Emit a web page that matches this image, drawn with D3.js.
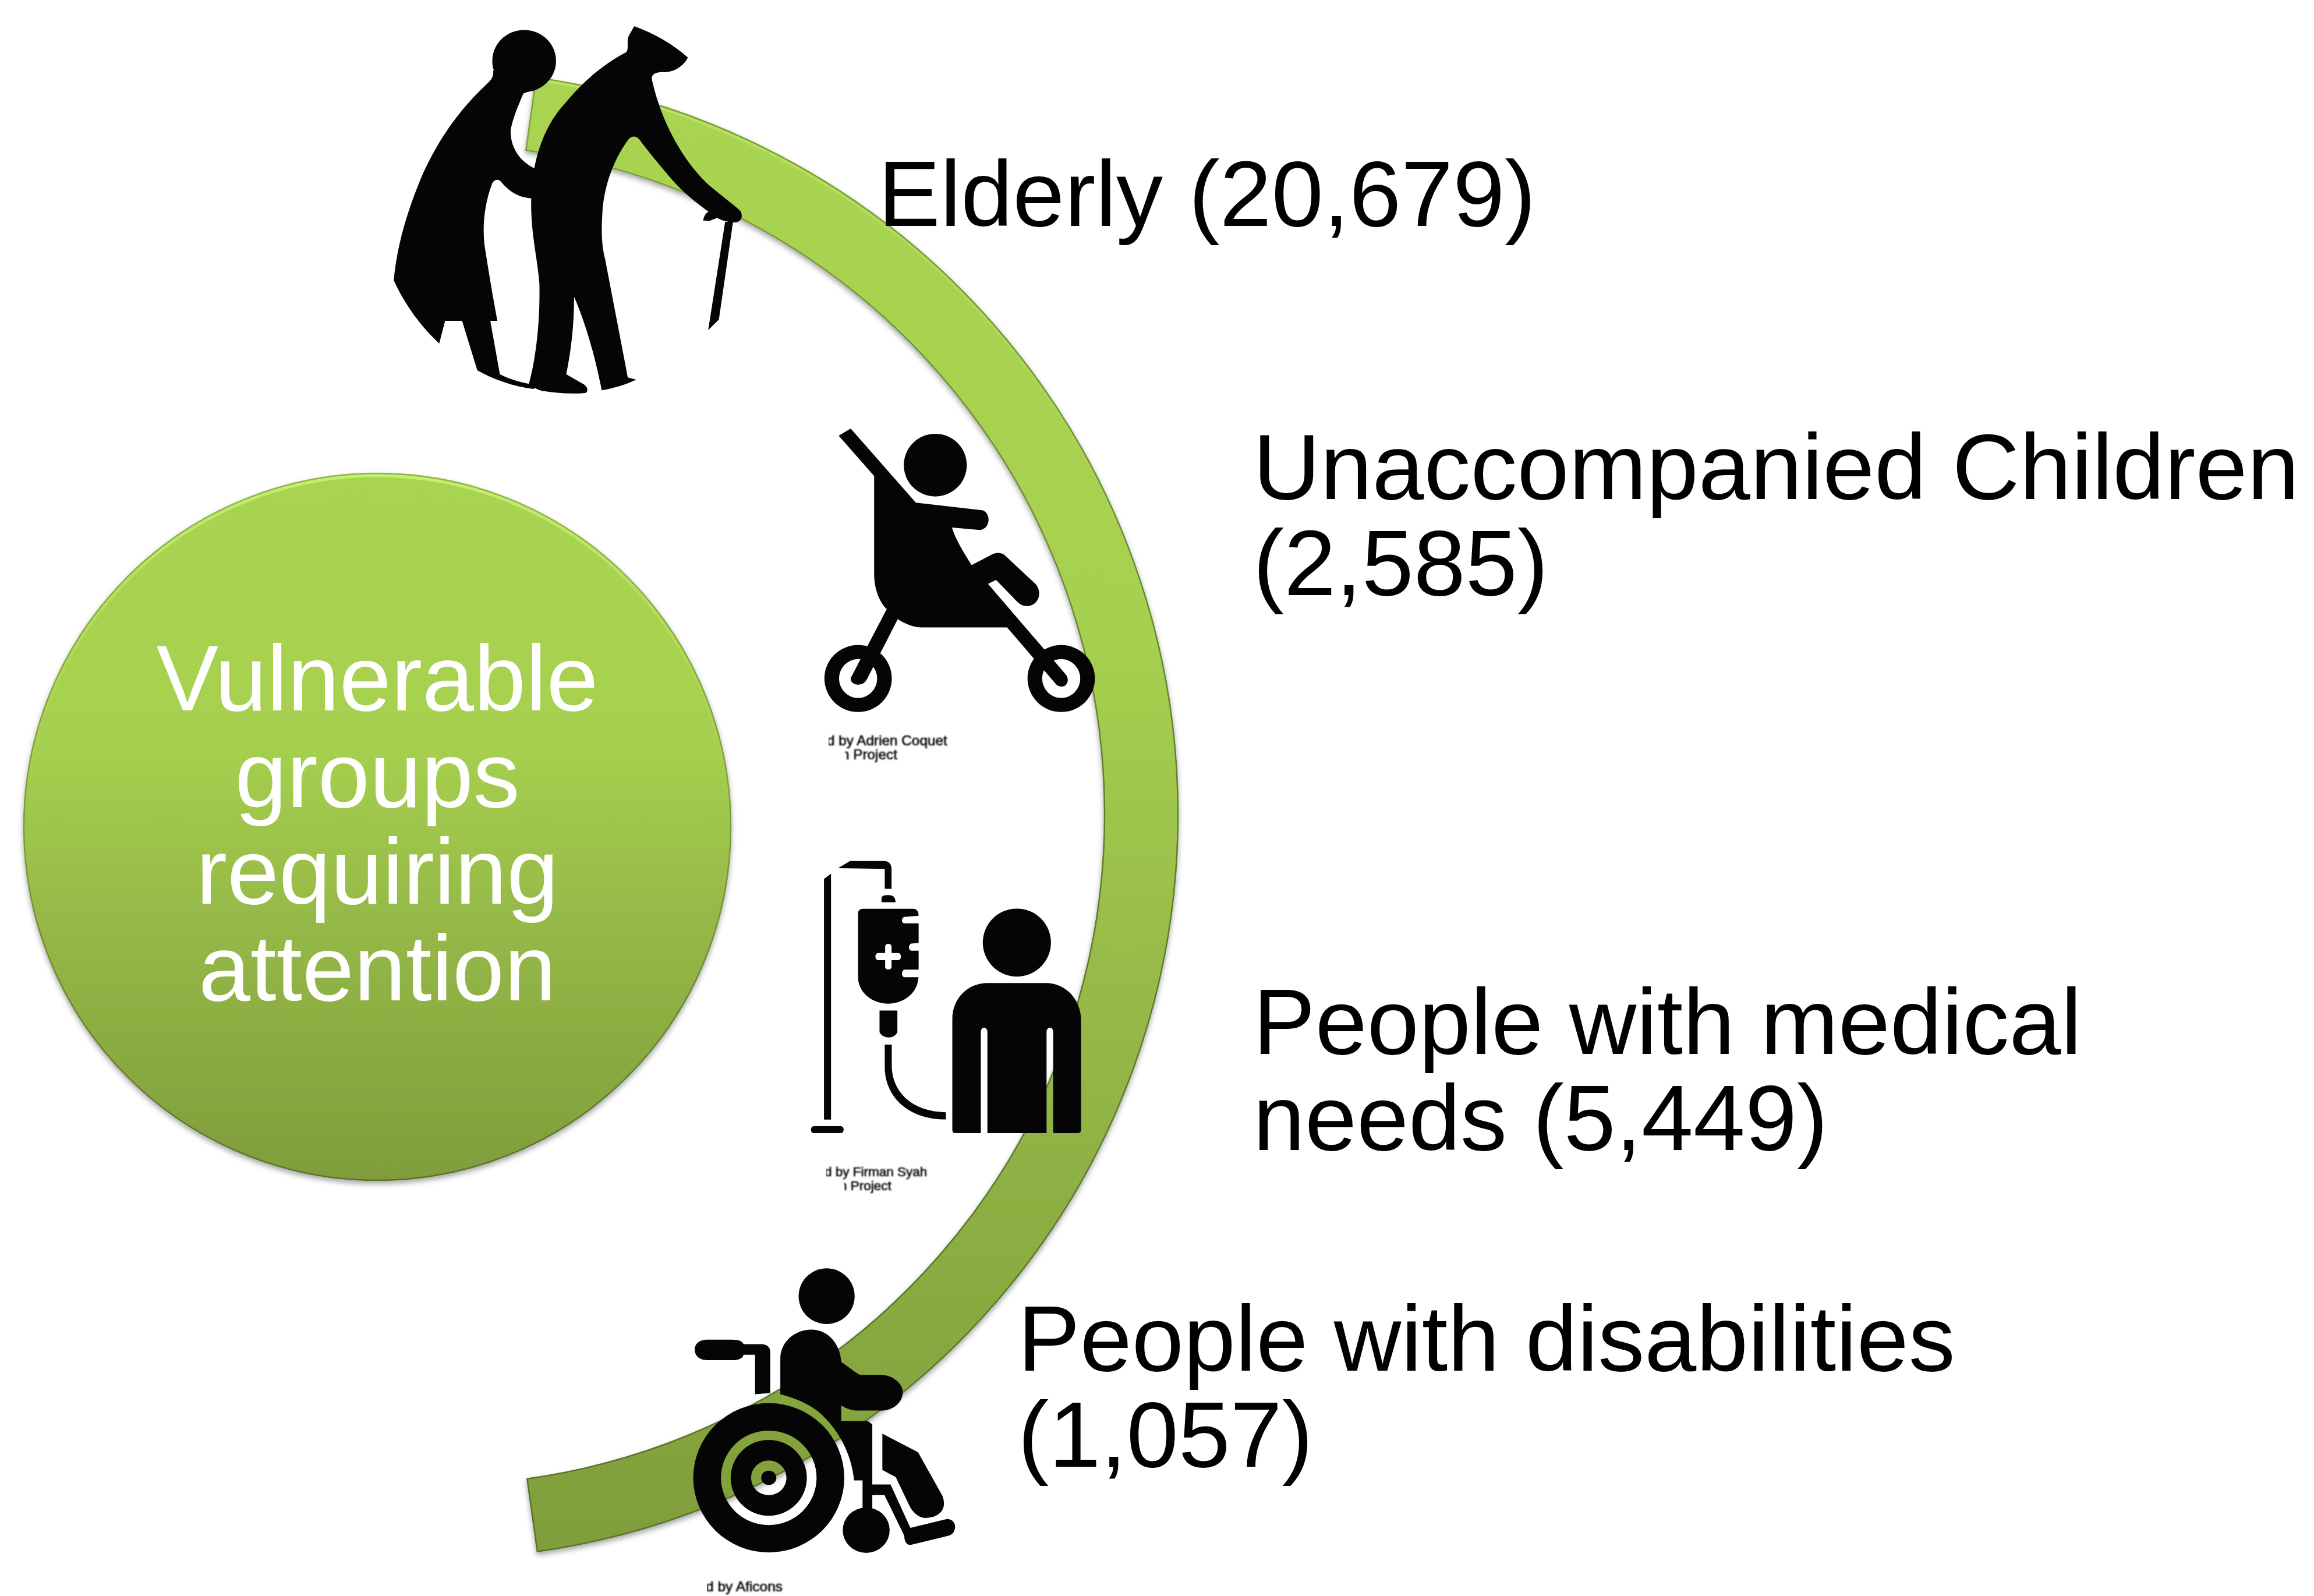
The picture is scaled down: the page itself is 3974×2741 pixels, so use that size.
<!DOCTYPE html>
<html>
<head>
<meta charset="utf-8">
<script src="https://cdn.jsdelivr.net/npm/d3@7/dist/d3.min.js"></script>
<style>
html,body{margin:0;padding:0;background:#fff}
svg{display:block}
text{font-family:"Liberation Sans",Arial,sans-serif}
</style>
</head>
<body>
<svg id="chart" width="3974" height="2741"></svg>
<script>
// Population groups and their head counts
const groupNames = ["Elderly", "Unaccompanied Children", "People with medical needs", "People with disabilities"];
const groupCounts = [20679, 2585, 5449, 1057];
const firstLines = [null, "Unaccompanied Children", "People with medical", "People with disabilities"];
const centreLines = ["Vulnerable", "groups", "requiring", "attention"];
const iconCredits = [
  {lines: ["d by Adrien Coquet", "n Project"], size: 24.3, x: [1420, 1445], y: [1280, 1304], clipX: [1423, 1451]},
  {lines: ["d by Firman Syah", "n Project"], size: 22.5, x: [1416, 1442], y: [2020, 2044], clipX: [1419, 1449]},
  {lines: ["d by Aficons"], size: 24.5, x: [1212], y: [2733], clipX: [1214]}
];

const labelX = [1508, 2152, 2152, 1748];
const labelY = [388, 857, 1810, 2354];
const labelLeading = 165;
const fontSize = 160;

const svg = d3.select("#chart");
const defs = svg.append("defs");
const fmt = d3.format(",");

function vGrad(id, y1, y2, stops) {
  const g = defs.append("linearGradient").attr("id", id)
    .attr("gradientUnits", "userSpaceOnUse")
    .attr("x1", 0).attr("x2", 0).attr("y1", y1).attr("y2", y2);
  stops.forEach(s => g.append("stop").attr("offset", s[0]).attr("stop-color", s[1]).attr("stop-opacity", s[2] === undefined ? 1 : s[2]));
}

const disc = {cx: 648, cy: 1420, r: 607};
const ribbon = {cx: 745, cy: 1399, inner: 1152, outer: 1278};
const ribbonTop = 130 - ribbon.cy, ribbonBottom = 2666 - ribbon.cy;

const fillStops = [[0, "#a9d451"], [0.38, "#a6d04f"], [0.62, "#96ba48"], [1, "#7f9d3b"]];
vGrad("discFill", 813, 2027, fillStops);
vGrad("discEdge", 813, 2027, [[0, "#8fb83e"], [0.5, "#7c9c38"], [1, "#56722a"]]);
vGrad("discGlow", 813, 2027, [[0, "#c8f276", 0.9], [0.25, "#b8e066", 0.55], [0.48, "#a8cc58", 0]]);
vGrad("ribbonFill", ribbonTop, ribbonBottom, fillStops);
vGrad("ribbonEdge", ribbonTop, ribbonBottom, [[0, "#7fa238"], [0.5, "#5f7e2c"], [1, "#56722a"]]);
vGrad("ribbonGlow", ribbonTop, ribbonBottom, [[0, "#c4ee72", 0.6], [0.3, "#b0d660", 0.25], [0.5, "#a0c050", 0]]);

const shadow = defs.append("filter").attr("id", "softShadow")
  .attr("x", "-5%").attr("y", "-5%").attr("width", "110%").attr("height", "112%");
shadow.append("feDropShadow").attr("dx", 0).attr("dy", 5).attr("stdDeviation", 5)
  .attr("flood-color", "#000").attr("flood-opacity", 0.35);
defs.append("filter").attr("id", "creditBlur").append("feGaussianBlur").attr("stdDeviation", 0.9);

// Central disc
svg.append("circle").attr("cx", disc.cx).attr("cy", disc.cy).attr("r", disc.r)
  .attr("fill", "url(#discFill)").attr("stroke", "url(#discEdge)").attr("stroke-width", 2.5)
  .attr("filter", "url(#softShadow)");
svg.append("circle").attr("cx", disc.cx).attr("cy", disc.cy).attr("r", disc.r - 4)
  .attr("fill", "none").attr("stroke", "url(#discGlow)").attr("stroke-width", 5);

// Curved ribbon round the disc
const deg = Math.PI / 180;
const ribbonAngles = {startAngle: 7.9 * deg, endAngle: 172 * deg};
const ribbonG = svg.append("g").attr("transform", `translate(${ribbon.cx},${ribbon.cy})`);
ribbonG.append("path")
  .attr("d", d3.arc().innerRadius(ribbon.inner).outerRadius(ribbon.outer)(ribbonAngles))
  .attr("fill", "url(#ribbonFill)").attr("stroke", "url(#ribbonEdge)").attr("stroke-width", 2.5)
  .attr("filter", "url(#softShadow)");
ribbonG.append("path")
  .attr("d", d3.arc().innerRadius(ribbon.outer - 6).outerRadius(ribbon.outer - 2)(ribbonAngles))
  .attr("fill", "url(#ribbonGlow)");

// Pictograms: outlines are traced in a local unit space and placed by a per-icon transform
const ell = (cx, cy, rx, ry) => `M${cx - rx},${cy}A${rx},${ry} 0 1 0 ${cx + rx},${cy}A${rx},${ry} 0 1 0 ${cx - rx},${cy}Z`;

function icon(x0, y0, fx, fy, shapes) {
  const g = svg.append("g").attr("transform", `translate(${x0},${y0}) scale(${1 / fx},${1 / fy})`);
  shapes.forEach(d => g.append("path").attr("d", d).attr("fill", "#050505").attr("fill-rule", "evenodd"));
}

// Two elderly walkers
icon(620, 0, 2.063, 2.178, [
  ell(578, 228, 113, 116),
  "M468,265 C472,290 455,305 440,320 C340,420 270,530 215,660 C160,800 128,920 116,1048 C150,1130 210,1220 277,1285 L298,1200 L358,1200 L412,1385 C470,1420 540,1445 610,1455 L640,1440 L590,1435 C560,1428 530,1420 492,1400 L458,1200 L483,1200 C465,1100 450,1000 438,920 C430,850 435,770 465,685 C475,668 490,668 500,685 C530,720 560,740 610,742 L640,742 L640,635 L620,632 C570,610 530,560 530,490 C535,450 555,400 575,350 L600,340 L500,250 Z",
  "M968,98 C1040,125 1105,165 1158,215 C1145,245 1110,270 1075,270 C1050,268 1030,275 1030,295 C1060,440 1130,590 1230,690 C1280,735 1320,765 1345,790 C1355,815 1345,830 1325,832 C1300,832 1280,825 1262,815 C1200,770 1140,720 1100,670 C1060,620 1020,570 985,520 C970,505 955,510 945,525 C900,590 860,690 855,800 C850,880 855,930 865,970 C890,1110 920,1270 945,1412 L975,1420 C935,1440 895,1452 853,1460 C830,1340 800,1220 755,1110 C755,1210 745,1310 727,1400 L790,1438 C805,1450 805,1465 795,1470 C740,1475 690,1470 640,1462 C620,1455 600,1445 595,1435 C620,1340 635,1200 632,1060 C625,960 600,870 603,740 C605,600 650,470 720,390 C790,300 860,240 940,195 C950,180 940,160 948,135 Z",
  "M1290,830 L1318,830 L1268,1195 L1230,1235 Z",
  "M1212,825 C1215,805 1225,790 1240,790 L1262,815 L1235,826 Z"
]);

// Child in a stroller
icon(1380, 700, 2.904, 2.45, [
  ell(657, 242, 157, 132),
  "M175,118 L235,88 L560,400 L890,432 C935,440 935,510 880,515 L740,505 C760,560 800,610 838,663 L940,618 C970,605 995,612 1015,630 L1160,745 C1195,785 1165,835 1115,835 C1090,835 1075,825 1060,812 L960,725 L920,742 L1310,1125 C1335,1160 1295,1190 1260,1165 L1015,925 L590,925 C550,925 505,910 470,890 L315,1145 C290,1185 215,1160 240,1130 L415,848 C375,815 352,760 352,700 L352,288 Z",
  ell(272, 1140, 168, 141) + ell(272, 1140, 95, 82),
  ell(1285, 1140, 168, 141) + ell(1285, 1140, 95, 82)
]);

// Patient beside a drip stand
icon(1360, 1440, 2.904, 2.45, [
  "M160,170 L195,148 L195,1183 L160,1183 Z",
  "M110,1210 L243,1210 C263,1210 263,1240 243,1240 L110,1240 C90,1240 90,1210 110,1210 Z",
  "M230,125 L290,95 L460,95 C485,95 497,110 497,130 L497,212 L463,212 L463,128 Z",
  "M447,268 L447,250 C450,240 460,238 480,238 C505,238 515,245 517,268 Z",
  "M330,315 C330,303 340,296 355,296 L605,296 C620,296 632,305 632,325 L560,330 C545,335 545,355 560,357 L632,357 L632,440 L595,442 C580,447 580,470 595,472 L632,472 L632,552 L560,552 C545,558 545,580 560,584 L632,584 L630,590 C625,650 560,695 480,695 C400,695 335,650 330,590 Z" +
  "M465,455 C465,440 497,440 497,455 L497,482 L530,482 C548,482 548,512 530,512 L497,512 L497,540 C497,555 465,555 465,540 L465,512 L430,512 C412,512 412,482 430,482 L465,482 Z",
  "M437,724 L526,724 L526,815 C510,845 455,845 437,815 Z",
  "M463,867 L498,867 L498,960 C500,1060 590,1150 768,1152 L768,1182 C600,1185 463,1100 463,960 Z",
  ell(1122, 438, 170, 143),
  "M800,760 C800,670 880,610 970,608 L1270,608 C1370,610 1440,680 1442,760 L1442,1225 C1442,1235 1435,1240 1425,1240 L1303,1240 L1303,815 C1303,790 1270,790 1270,815 L1270,1240 L975,1240 L975,815 C975,790 942,790 942,815 L942,1240 L815,1240 C805,1240 800,1235 800,1225 Z"
]);

// Wheelchair user
icon(860, 2140, 1.912, 2.613, [
  ell(1070, 225, 92, 125),
  "M680,420 L760,420 C785,420 795,430 797,440 L855,440 C875,440 885,455 885,475 L885,660 L835,665 L835,488 L797,488 C795,505 780,512 760,512 L680,512 C650,512 637,490 637,465 C637,440 650,420 680,420 Z",
  "M918,665 L918,500 C920,430 965,375 1020,375 C1075,375 1115,440 1118,520 C1140,540 1160,565 1180,578 L1250,578 C1290,580 1320,620 1320,655 C1320,700 1290,738 1250,738 L1165,738 C1145,735 1130,725 1118,715 L1118,785 L1205,785 L1220,800 L1220,1070 L1280,1070 L1345,1265 L1465,1225 C1500,1225 1500,1290 1470,1300 L1350,1340 C1335,1345 1325,1330 1325,1300 L1260,1118 L1220,1118 L1220,1180 L1188,1175 L1188,1052 L1160,1052 C1155,960 1120,830 1040,740 C1000,700 960,680 918,665 Z",
  ell(880, 1040, 248, 335) + ell(880, 1040, 157, 212) + ell(880, 1040, 125, 170) + ell(880, 1040, 58, 78),
  ell(880, 1040, 25, 32),
  ell(1200, 1275, 77, 102),
  "M1253,842 L1370,925 L1450,1120 C1470,1190 1430,1220 1395,1220 C1370,1220 1350,1190 1340,1160 L1297,1037 L1253,1005 Z"
]);

// Icon credits, cut off on the left by the pictogram frames
iconCredits.forEach((c, i) => {
  c.lines.forEach((t, j) => {
    const id = `creditClip${i}_${j}`;
    defs.append("clipPath").attr("id", id)
      .append("rect").attr("x", c.clipX[j]).attr("y", c.y[j] - 40).attr("width", 400).attr("height", 60);
    svg.append("g").attr("clip-path", `url(#${id})`)
      .append("text").attr("x", c.x[j]).attr("y", c.y[j]).attr("font-size", c.size)
      .attr("fill", "#000").attr("stroke", "#000").attr("stroke-width", 0.6)
      .attr("filter", "url(#creditBlur)").text(t);
  });
});

// Disc caption
svg.append("g").selectAll("text").data(centreLines).join("text")
  .attr("x", disc.cx).attr("y", (d, i) => 1220 + i * 166)
  .attr("text-anchor", "middle").attr("font-size", fontSize).attr("fill", "#fff")
  .text(d => d);

// Group labels with their counts
groupNames.forEach((name, i) => {
  const countText = `(${fmt(groupCounts[i])})`;
  const first = firstLines[i];
  const lines = first === null
    ? [`${name} ${countText}`]
    : [first, `${name.slice(first.length).trim()} ${countText}`.trim()];
  svg.append("g").selectAll("text").data(lines).join("text")
    .attr("x", labelX[i]).attr("y", (d, j) => labelY[i] + j * labelLeading)
    .attr("font-size", fontSize).attr("fill", "#000").text(d => d);
});
</script>
</body>
</html>
